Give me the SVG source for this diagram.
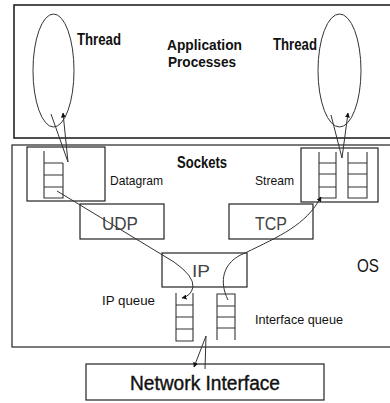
<svg xmlns="http://www.w3.org/2000/svg" width="390" height="403" viewBox="0 0 390 403">
<defs>
<style>
.box{fill:none;stroke:#222;stroke-width:1.2}
.ln{fill:none;stroke:#333;stroke-width:1}
.q{fill:none;stroke:#333;stroke-width:1.1}
.t{font-family:"Liberation Sans",Arial,sans-serif;fill:#111}
.b{font-weight:bold}
.lt{fill:#444}
</style>
<marker id="ah" viewBox="0 0 10 10" refX="9" refY="5" markerWidth="5" markerHeight="5" orient="auto">
<path d="M0,0 L10,5 L0,10 z" fill="#111"/>
</marker>
</defs>
<rect width="390" height="403" fill="#fff"/>

<g id="app">
<rect x="14" y="5" width="400" height="133" class="box" style="stroke-width:1.6"/>
<text class="t b" x="167" y="50" font-size="15" textLength="75" lengthAdjust="spacingAndGlyphs">Application</text>
<text class="t b" x="168" y="67" font-size="15" textLength="68" lengthAdjust="spacingAndGlyphs">Processes</text>
</g>
<g id="thread-left">
<ellipse cx="53.5" cy="70.5" rx="20.5" ry="56.5" class="ln"/>
<text class="t b" x="77" y="45" font-size="16" textLength="44" lengthAdjust="spacingAndGlyphs">Thread</text>
</g>
<g id="thread-right">
<ellipse cx="339.5" cy="70.5" rx="21.5" ry="56.5" class="ln"/>
<text class="t b" x="273" y="50" font-size="16" textLength="44" lengthAdjust="spacingAndGlyphs">Thread</text>
</g>

<g id="os">
<rect x="12" y="145" width="400" height="202" class="box"/>
<text class="t" x="357" y="272" font-size="19" textLength="22" lengthAdjust="spacingAndGlyphs">OS</text>
<text class="t b" x="177" y="168" font-size="16" textLength="50" lengthAdjust="spacingAndGlyphs">Sockets</text>
</g>

<g id="datagram">
<rect x="27" y="147" width="78" height="54" class="box"/>
<path class="q" d="M44,151 V198 H63 V163 M44,163 H63 M44,175 H63 M44,187 H63"/>
<text class="t" x="110" y="185" font-size="13.5" textLength="53" lengthAdjust="spacingAndGlyphs">Datagram</text>
</g>

<g id="stream">
<rect x="301" y="148" width="77" height="54" class="box"/>
<path class="q" d="M319,152 V198 H336 V152 M319,163 H336 M319,174 H336 M319,187 H336"/>
<path class="q" d="M348,152 V198 H367 V152 M348,163 H367 M348,174 H367 M348,187 H367"/>
<text class="t" x="255" y="185" font-size="13.5" textLength="39" lengthAdjust="spacingAndGlyphs">Stream</text>
</g>

<g id="udp">
<rect x="80" y="204" width="84" height="35" class="box"/>
<text class="t lt" x="102" y="230" font-size="18" textLength="36" lengthAdjust="spacingAndGlyphs">UDP</text>
</g>

<g id="tcp">
<rect x="229" y="204" width="84" height="35" class="box"/>
<text class="t lt" x="255" y="230" font-size="18" textLength="32" lengthAdjust="spacingAndGlyphs">TCP</text>
</g>

<g id="ip">
<rect x="162" y="253" width="85" height="34" class="box"/>
<text class="t lt" x="192" y="277" font-size="16" textLength="18" lengthAdjust="spacingAndGlyphs">IP</text>
</g>

<g id="ip-queue">
<path class="q" d="M176,293 V341 H193 V293 M176,305 H193 M176,317 H193 M176,329 H193"/>
<text class="t" x="102" y="305" font-size="12.5" textLength="53" lengthAdjust="spacingAndGlyphs">IP queue</text>
</g>

<g id="interface-queue">
<path class="q" d="M217,340 V294 H235 V340 M217,306 H235 M217,317 H235 M217,328 H235"/>
<text class="t" x="255" y="324" font-size="13.5" textLength="88" lengthAdjust="spacingAndGlyphs">Interface queue</text>
</g>

<g id="network-interface">
<rect x="86" y="364" width="238" height="36" class="box"/>
<text class="t" x="130" y="390" font-size="20" textLength="150" lengthAdjust="spacingAndGlyphs" stroke="#111" stroke-width="0.4">Network Interface</text>
</g>

<g id="connectors">
<path class="ln" d="M51,114 L68,162 L63,113" marker-end="url(#ah)"/>
<path class="ln" d="M331,115 L342,158 L348,113" marker-end="url(#ah)"/>
<path class="ln" d="M57,191 L174,262 Q194,276 193,287 Q191,296 182,298" marker-end="url(#ah)"/>
<path class="ln" d="M228,300 C219,282 222,262 245,253 C280,236 306,225 321,197" marker-end="url(#ah)"/>
<path class="ln" d="M205,369 L206,336 L194,367" marker-end="url(#ah)"/>
</g>
</svg>
